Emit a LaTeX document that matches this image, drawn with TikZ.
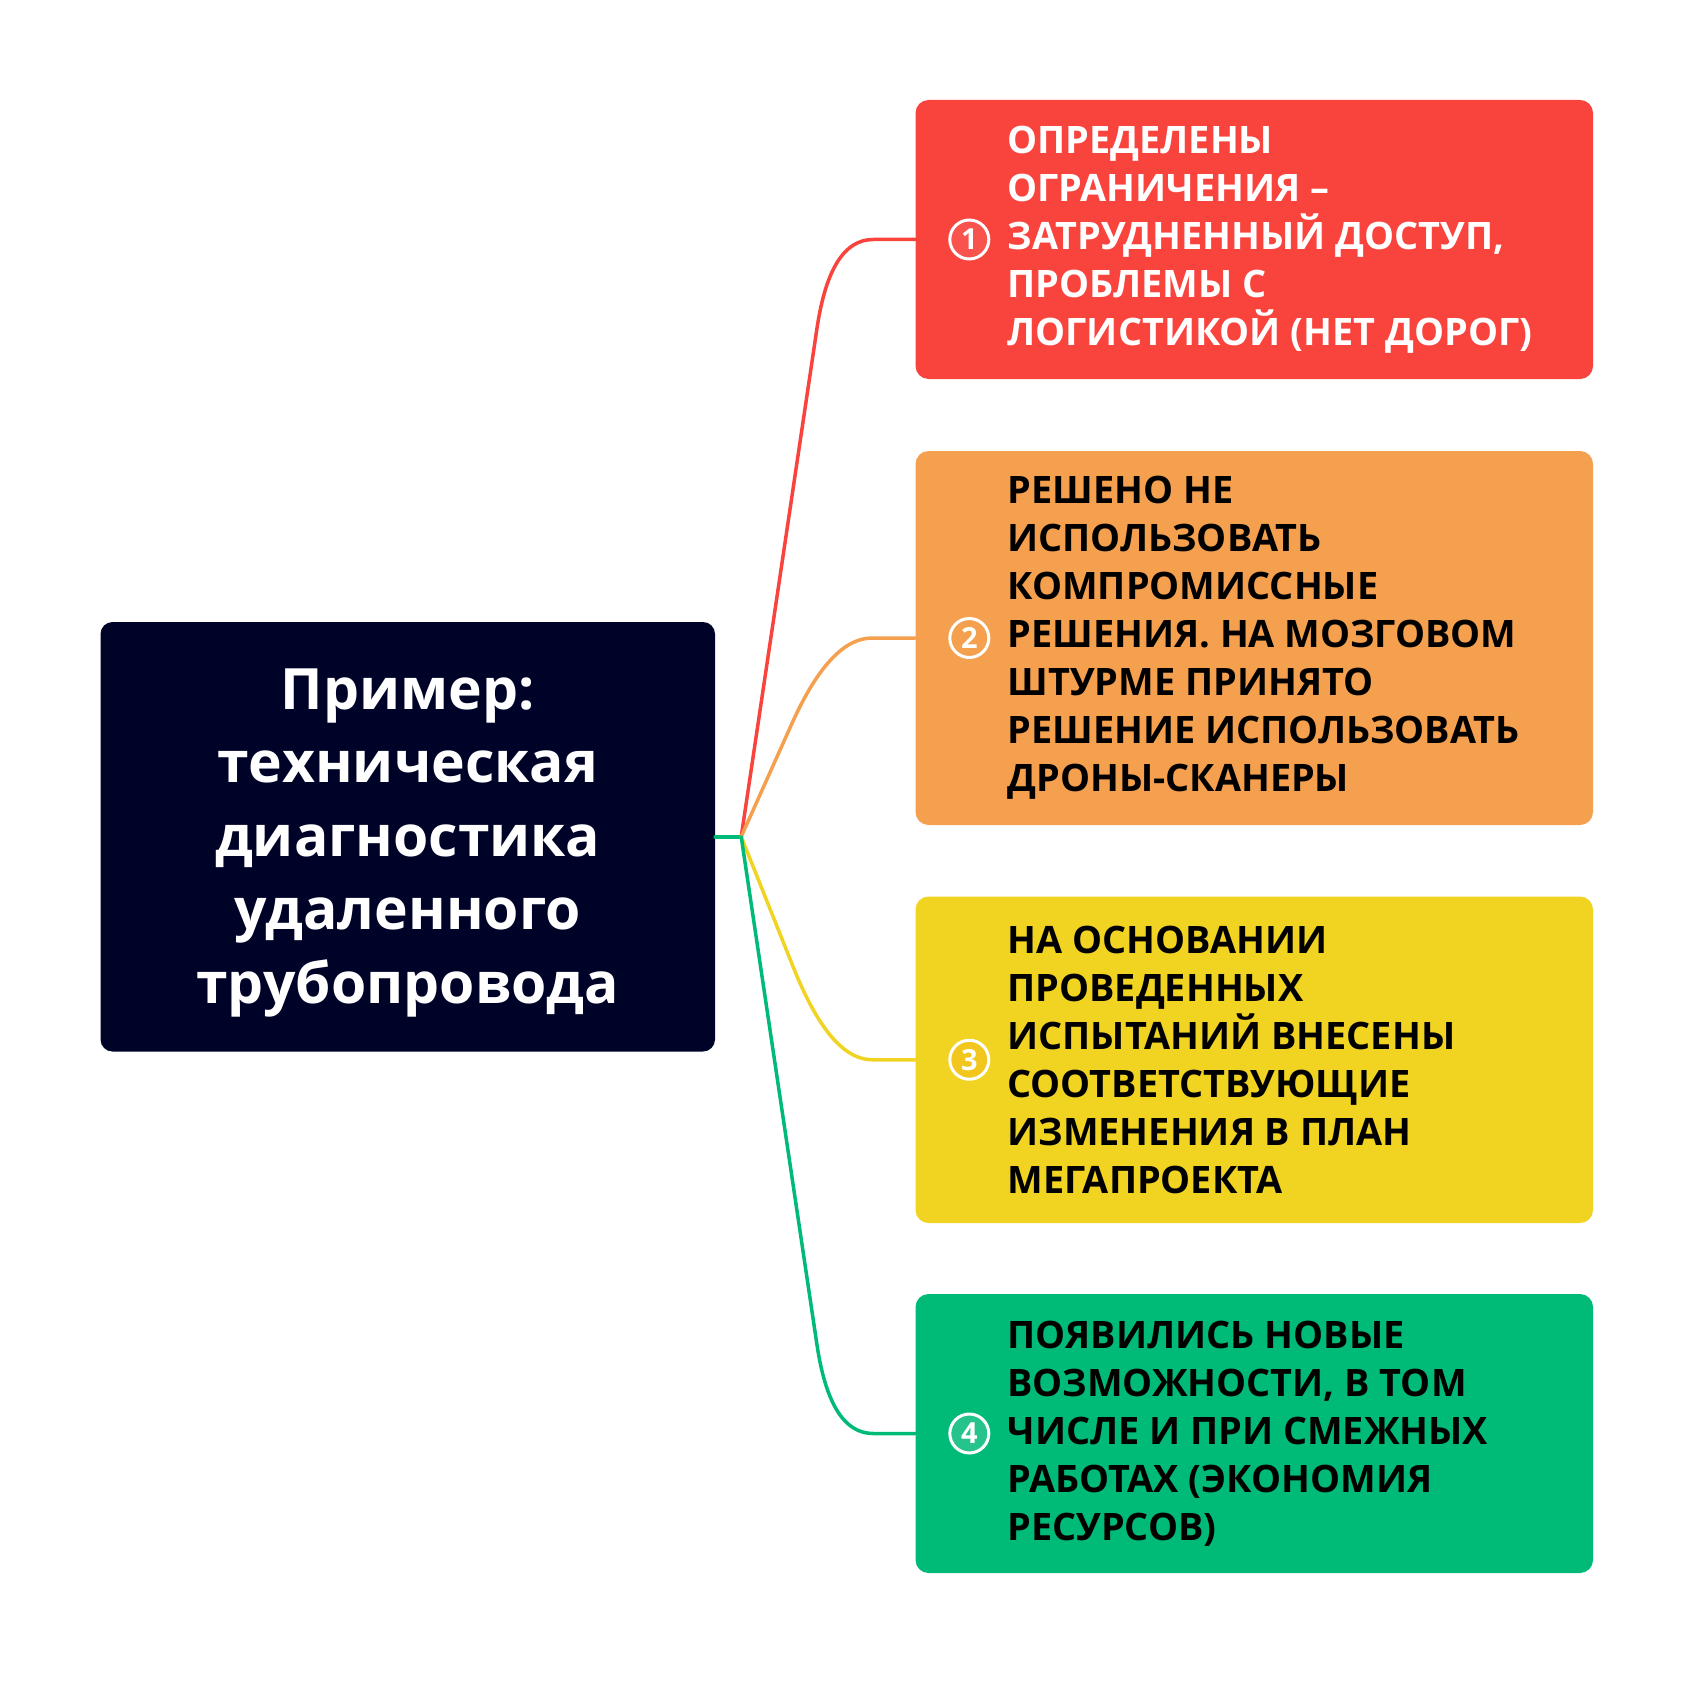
\documentclass[tikz,border=0pt]{standalone}
\usepackage{fontspec}
\setmainfont{Open Sans}
\usetikzlibrary{positioning,calc}
\definecolor{navy}{HTML}{000328}
\definecolor{cred}{HTML}{F9443E}
\definecolor{corange}{HTML}{F5A04E}
\definecolor{cyellow}{HTML}{F1D322}
\definecolor{cgreen}{HTML}{00BA78}

\begin{document}
\begin{tikzpicture}[x=1pt, y=-1pt,
    root/.style={fill=navy, rounded corners=12pt, inner sep=0pt,
      minimum width=614.5pt, minimum height=429.5pt},
    title/.style={text=white, inner sep=0pt, align=center,
      font=\bfseries\fontsize{57}{73.5}\selectfont},
    topic/.style={rounded corners=13pt, inner sep=0pt, minimum width=677.5pt},
    badge/.style={circle, draw=white, line width=3pt, minimum size=39pt,
      inner sep=0pt, text=white, font=\bfseries\fontsize{29}{29}\selectfont},
    note/.style={inner sep=0pt, align=left, anchor=west,
      font=\bfseries\fontsize{37.8}{48}\selectfont},
    link/.style={line width=3.5pt, line cap=round}]
  \useasboundingbox (0,0) rectangle (1694,1693);

  \node[root] (root) at (407.75,836.75) {};
  \node[title] (title) at ([yshift=-6pt]root.center) {Пример:\\техническая\\диагностика\\удаленного\\трубопровода};
  \coordinate (j) at ($(root.east)+(26,0)$);

  \node[topic, fill=cred, minimum height=279pt] (b1) at (1254.25,239.5) {};
  \node[topic, fill=corange, minimum height=374pt] (b2) at (1254.25,638) {};
  \node[topic, fill=cyellow, minimum height=326.5pt] (b3) at (1254.25,1059.75) {};
  \node[topic, fill=cgreen, minimum height=279pt] (b4) at (1254.25,1433.5) {};

  \node[badge, fill=cred!92!white] (n1) at ($(b1.west)+(54,0)$) {1};
  \node[badge, fill=corange] (n2) at ($(b2.west)+(54,0)$) {2};
  \node[badge, fill=cyellow!85!orange] (n3) at ($(b3.west)+(54,0)$) {3};
  \node[badge, fill=cgreen!85!white] (n4) at ($(b4.west)+(54,0)$) {4};

  \node[note, text=white, right=17pt of n1] (t1) {ОПРЕДЕЛЕНЫ\\ОГРАНИЧЕНИЯ –\\ЗАТРУДНЕННЫЙ ДОСТУП,\\ПРОБЛЕМЫ С\\ЛОГИСТИКОЙ (НЕТ ДОРОГ)};
  \node[note, right=17pt of n2] (t2) {РЕШЕНО НЕ\\ИСПОЛЬЗОВАТЬ\\КОМПРОМИССНЫЕ\\РЕШЕНИЯ. НА МОЗГОВОМ\\ШТУРМЕ ПРИНЯТО\\РЕШЕНИЕ ИСПОЛЬЗОВАТЬ\\ДРОНЫ-СКАНЕРЫ};
  \node[note, right=17pt of n3] (t3) {НА ОСНОВАНИИ\\ПРОВЕДЕННЫХ\\ИСПЫТАНИЙ ВНЕСЕНЫ\\СООТВЕТСТВУЮЩИЕ\\ИЗМЕНЕНИЯ В ПЛАН\\МЕГАПРОЕКТА};
  \node[note, right=17pt of n4] (t4) {ПОЯВИЛИСЬ НОВЫЕ\\ВОЗМОЖНОСТИ, В ТОМ\\ЧИСЛЕ И ПРИ СМЕЖНЫХ\\РАБОТАХ (ЭКОНОМИЯ\\РЕСУРСОВ)};

  \coordinate (k1) at ($(b1.west -| j)+(89,0)$);
  \coordinate (k2) at ($(b2.west -| j)+(89,0)$);
  \coordinate (k3) at ($(b3.west -| j)+(89,0)$);
  \coordinate (k4) at ($(b4.west -| j)+(89,0)$);
  \coordinate (a1) at ($(k1)!90pt!(j)$);
  \coordinate (a2) at ($(k2)!95pt!(j)$);
  \coordinate (a3) at ($(k3)!100pt!(j)$);
  \coordinate (a4) at ($(k4)!90pt!(j)$);
  \coordinate (h1) at ($(k1)+(43,0)$);
  \coordinate (h2) at ($(k2)+(42,0)$);
  \coordinate (h3) at ($(k3)+(42,0)$);
  \coordinate (h4) at ($(k4)+(43,0)$);

  \draw[link, cgreen] (root.east) -- (j);
  \draw[link, cred] (j) -- (a1) .. controls ($(a1)!.67!(k1)$) and ($(h1)!.67!(k1)$) .. (h1) -- (b1.west);
  \draw[link, corange] (j) -- (a2) .. controls ($(a2)!.67!(k2)$) and ($(h2)!.67!(k2)$) .. (h2) -- (b2.west);
  \draw[link, cyellow] (j) -- (a3) .. controls ($(a3)!.67!(k3)$) and ($(h3)!.67!(k3)$) .. (h3) -- (b3.west);
  \draw[link, cgreen] (j) -- (a4) .. controls ($(a4)!.67!(k4)$) and ($(h4)!.67!(k4)$) .. (h4) -- (b4.west);
\end{tikzpicture}
\end{document}
